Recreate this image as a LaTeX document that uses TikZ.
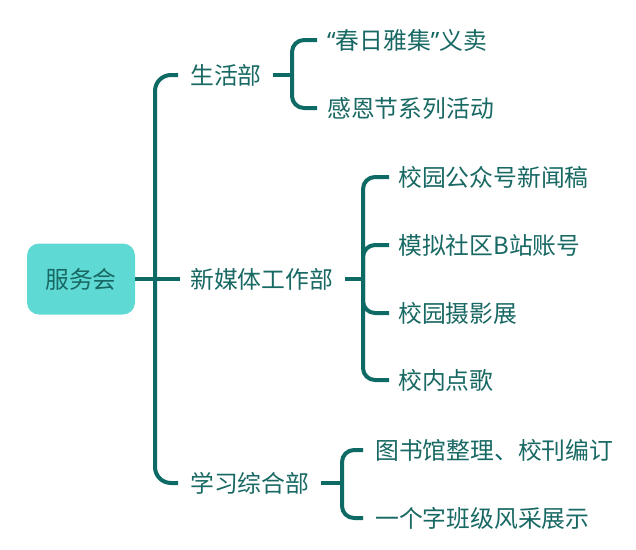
\documentclass[tikz,border=0pt]{standalone}
\usepackage{fontspec}
\setmainfont{Noto Sans CJK SC}
\newfontfamily\latinq{Noto Sans}
\definecolor{lc}{RGB}{14,106,100}
\definecolor{tc}{RGB}{24,104,99}
\definecolor{rootfill}{RGB}{95,217,212}
\begin{document}
\begin{tikzpicture}[x=1pt,y=-1pt,
  conn/.style={draw=lc, line width=4pt, rounded corners=12pt},
  spine/.style={draw=lc, line width=4pt, rounded corners=16pt},
  lbl/.style={anchor=west, text=tc, font=\fontsize{23.8}{26}\selectfont, inner sep=0pt},
  rootbox/.style={fill=rootfill, rounded corners=12pt, minimum width=108pt, minimum height=71pt, text=tc, font=\fontsize{23.8}{26}\selectfont, inner sep=0pt}
]
\useasboundingbox (0,0) rectangle (636,549);
\node[rootbox] (root) at (81,279) {服务会};
% main labels
\node[lbl] (l1) at (190,75) {生活部};
\node[lbl] (l2) at (190,279) {新媒体工作部};
\node[lbl] (l3) at (190,483) {学习综合部};
\coordinate (j0) at (155,279);
\draw[conn] (root.east) -- (j0);
\draw[spine, shorten >=12pt] (j0) |- (l1.west);
\draw[conn, shorten >=10pt] (j0) -- (l2.west);
\draw[spine, shorten >=12pt] (j0) |- (l3.west);
% branch 1
\coordinate (b1) at (292,75);
\node[lbl] (c11) at (327,40) {{\latinq “}春日雅集{\latinq ”}义卖};
\node[lbl] (c12) at (327,108) {感恩节系列活动};
\draw[conn, shorten <=11pt] (l1.east) -- (b1);
\draw[conn, shorten >=10pt] (b1) |- (c11.west);
\draw[conn, shorten >=10pt] (b1) |- (c12.west);
% branch 2
\coordinate (b2) at (363,279);
\node[lbl] (c21) at (398,177) {校园公众号新闻稿};
\node[lbl] (c22) at (398,245) {模拟社区B站账号};
\node[lbl] (c23) at (398,313) {校园摄影展};
\node[lbl] (c24) at (398,380) {校内点歌};
\draw[conn, shorten <=12pt] (l2.east) -- (b2);
\draw[conn, shorten >=9pt] (b2) |- (c21.west);
\draw[conn, shorten >=9pt] (b2) |- (c22.west);
\draw[conn, shorten >=9pt] (b2) |- (c23.west);
\draw[conn, shorten >=9pt] (b2) |- (c24.west);
% branch 3
\coordinate (b3) at (342,483);
\node[lbl] (c31) at (375,450) {图书馆整理、校刊编订};
\node[lbl] (c32) at (375,518) {一个字班级风采展示};
\draw[conn, shorten <=12pt] (l3.east) -- (b3);
\draw[conn, shorten >=12pt] (b3) |- (c31.west);
\draw[conn, shorten >=12pt] (b3) |- (c32.west);
\end{tikzpicture}
\end{document}
